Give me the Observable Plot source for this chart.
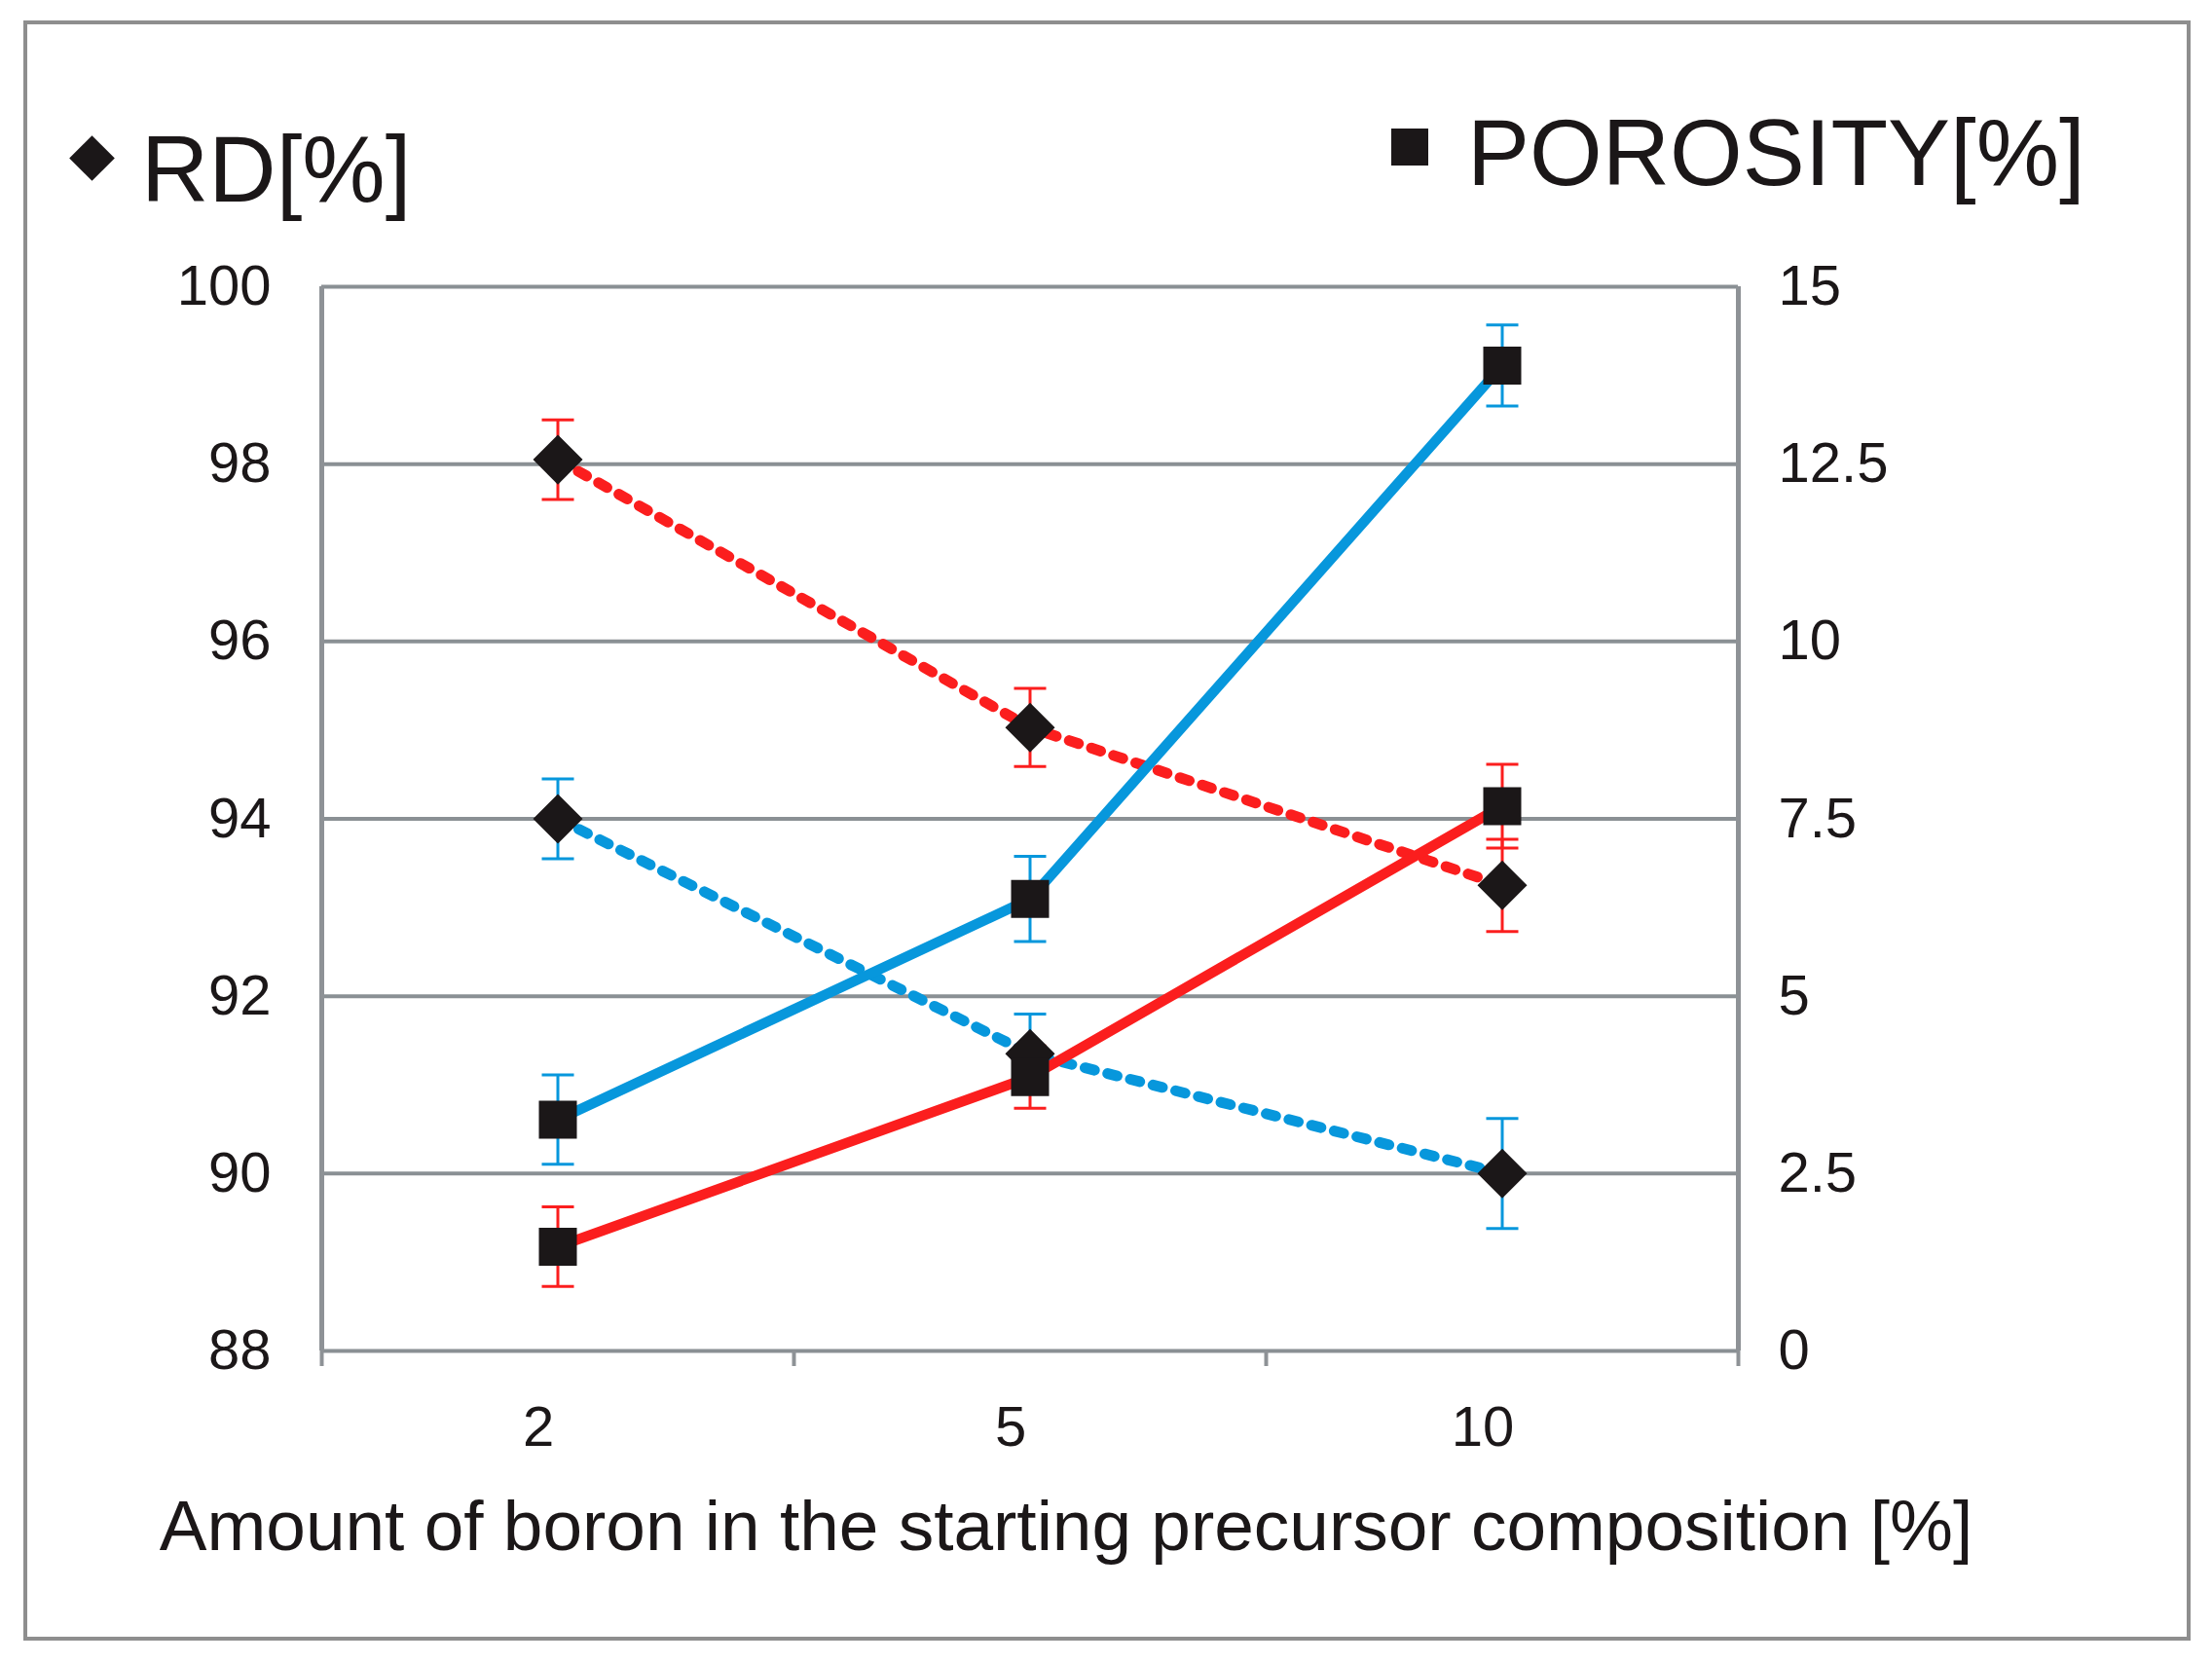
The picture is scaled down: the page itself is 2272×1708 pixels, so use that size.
<!DOCTYPE html>
<html>
<head>
<meta charset="utf-8">
<script src="https://cdn.jsdelivr.net/npm/d3@7"></script>
<script src="https://cdn.jsdelivr.net/npm/@observablehq/plot@0.6"></script>
<style>
  html, body { margin: 0; padding: 0; background: #fff; }
  #fig { position: relative; width: 2272px; height: 1708px; font-family: "Liberation Sans", Arial, sans-serif; color: #1b1718; background: #fff; overflow: hidden; }
  #frame { position: absolute; left: 24px; top: 21px; width: 2218px; height: 1656px; border: 4px solid #8e8e8e; pointer-events: none; }
  #legend { position: relative; height: 240px; }
  .lg-text { position: absolute; font-size: 96px; line-height: 1; white-space: nowrap; }
  .lg-diamond { position: absolute; width: 33px; height: 33px; background: #1b1718; transform: rotate(45deg); }
  .lg-square { position: absolute; width: 38px; height: 38px; background: #1b1718; }
  #chart svg { display: block; }
</style>
</head>
<body>
<div id="fig">
  <div id="legend">
    <div class="lg-diamond" style="left:78px; top:146px;"></div>
    <div class="lg-text" style="left:145px; top:126px;">RD[%]</div>
    <div class="lg-square" style="left:1429px; top:132px;"></div>
    <div class="lg-text" style="left:1507px; top:109px;">POROSITY[%]</div>
  </div>
  <div id="chart"></div>
  <div id="frame"></div>
</div>
<script>
// ---- data ----
const categories = ["2", "5", "10"];
const rdTicks = [88, 90, 92, 94, 96, 98, 100];
const porosityTicks = [0, 2.5, 5, 7.5, 10, 12.5, 15];

// Relative density [%] (left axis)
const rdRed = [98.05, 95.03, 93.25];
const rdRedErr = [0.45, 0.44, 0.52];
const rdBlue = [94.0, 91.35, 90.0];
const rdBlueErr = [0.45, 0.45, 0.62];

// Porosity [%] (right axis)
const porRed = [1.47, 3.86, 7.68];
const porRedErr = [0.56, 0.44, 0.59];
const porBlue = [3.26, 6.37, 13.89];
const porBlueErr = [0.63, 0.6, 0.57];

const xTitle = "Amount of boron in the starting precursor composition [%]";

const RED = "#fb1e1e";
const BLUE = "#0797dc";
const INK = "#1b1718";

// map porosity (0..15) onto the RD scale (88..100)
const toLeft = p => 88 + p * 12 / 15;
const fromLeft = v => (v - 88) * 15 / 12;

function rows(values, errs, map) {
  return values.map((v, i) => ({
    x: i + 1,
    y: map(v),
    lo: map(v - errs[i]),
    hi: map(v + errs[i])
  }));
}
const id = v => v;
const redRD = rows(rdRed, rdRedErr, id);
const blueRD = rows(rdBlue, rdBlueErr, id);
const redPor = rows(porRed, porRedErr, toLeft);
const bluePor = rows(porBlue, porBlueErr, toLeft);

const capSymbol = {
  draw(context, size) {
    const w = Math.sqrt(size / Math.PI);
    context.moveTo(-w, 0);
    context.lineTo(w, 0);
  }
};

function errorBars(data, color) {
  return [
    Plot.ruleX(data, {x: "x", y1: "lo", y2: "hi", stroke: color, strokeWidth: 3}),
    Plot.dot(data, {x: "x", y: "lo", symbol: capSymbol, r: 16.5, stroke: color, strokeWidth: 3, fill: "none"}),
    Plot.dot(data, {x: "x", y: "hi", symbol: capSymbol, r: 16.5, stroke: color, strokeWidth: 3, fill: "none"})
  ];
}

const chart = Plot.plot({
  width: 2272,
  height: 1468,
  marginLeft: 330,
  marginRight: 487,
  marginTop: 54,
  marginBottom: 321,
  style: {fontFamily: "'Liberation Sans', Arial, sans-serif", color: INK, background: "white", overflow: "visible"},
  x: {domain: [0.5, 3.5], axis: null},
  y: {domain: [88, 100], axis: null},
  marks: [
    Plot.ruleY(rdTicks, {stroke: "#8a9094", strokeWidth: 4}),
    Plot.ruleX([0.5, 3.5], {stroke: "#8e9296", strokeWidth: 5}),
    Plot.axisX([0.5, 1.5, 2.5, 3.5], {tickSize: 16, tickFormat: () => "", stroke: "#8e9296", strokeWidth: 4, label: null}),
    Plot.axisX([1, 2, 3], {tickSize: 0, tickPadding: 56, tickFormat: i => categories[i - 1], fontSize: 58, dx: -20, label: null}),
    Plot.axisY(rdTicks, {anchor: "left", tickSize: 0, tickPadding: 52, fontSize: 58, label: null, tickFormat: d => String(d)}),
    Plot.axisY(porosityTicks.map(toLeft), {anchor: "right", tickSize: 0, tickPadding: 41, fontSize: 58, label: null,
      tickFormat: d => String(Math.round(fromLeft(d) * 10) / 10)}),

    // lines
    Plot.line(redRD, {x: "x", y: "y", stroke: RED, strokeWidth: 11, strokeDasharray: "10,14"}),
    Plot.line(blueRD, {x: "x", y: "y", stroke: BLUE, strokeWidth: 11, strokeDasharray: "10,14"}),
    Plot.line(bluePor, {x: "x", y: "y", stroke: BLUE, strokeWidth: 10.5}),
    Plot.line(redPor, {x: "x", y: "y", stroke: RED, strokeWidth: 10.5}),

    // error bars
    ...errorBars(redRD, RED),
    ...errorBars(blueRD, BLUE),
    ...errorBars(bluePor, BLUE),
    ...errorBars(redPor, RED),

    // markers
    Plot.dot(redRD, {x: "x", y: "y", symbol: "diamond2", r: 23, fill: INK}),
    Plot.dot(blueRD, {x: "x", y: "y", symbol: "diamond2", r: 23, fill: INK}),
    Plot.dot(bluePor, {x: "x", y: "y", symbol: "square", r: 22, fill: INK}),
    Plot.dot(redPor, {x: "x", y: "y", symbol: "square", r: 22, fill: INK}),

    // x-axis title
    Plot.text([xTitle], {frameAnchor: "bottom", dy: 181, dx: 37, fontSize: 73, lineAnchor: "middle", fill: INK})
  ]
});
document.getElementById("chart").appendChild(chart);
</script>
</body>
</html>
